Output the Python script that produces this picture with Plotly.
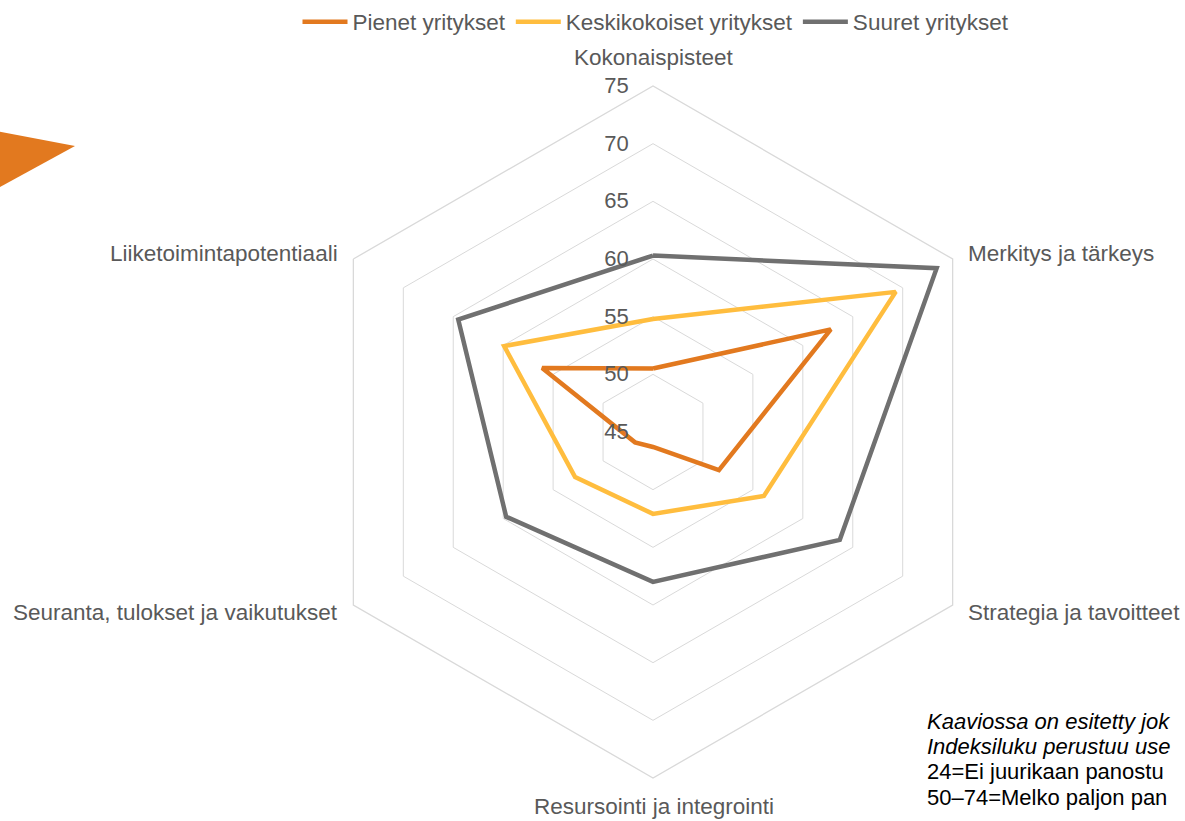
import plotly.graph_objects as go

categories = ["Kokonaispisteet", "Merkitys ja tärkeys", "Strategia ja tavoitteet",
              "Resursointi ja integrointi", "Seuranta, tulokset ja vaikutukset",
              "Liiketoimintapotentiaali"]
pienet = [50.5, 62.8, 51.6, 46.3, 46.8, 56.1]
keski = [54.8, 69.3, 56.1, 52.1, 52.8, 59.9]
suuret = [60.3, 73.4, 63.7, 58.0, 59.7, 64.5]
series_names = ["Pienet yritykset", "Keskikokoiset yritykset", "Suuret yritykset"]
radial_ticks = [45, 50, 55, 60, 65, 70, 75]
note_lines = ["<i>Kaaviossa on esitetty jok</i>", "<i>Indeksiluku perustuu use</i>",
              "24=Ei juurikaan panostu", "50–74=Melko paljon pan"]

W, H = 1185, 821
colors = ["#E2791F", "#FFBD3E", "#707070"]
FONT = "Liberation Sans, Arial, sans-serif"
GREY_TXT = "#595959"


def px(x):
    return x / W


def py(y):
    return 1 - y / H


fig = go.Figure()
for name, vals, col in zip(series_names, [pienet, keski, suuret], colors):
    fig.add_trace(go.Scatterpolar(
        r=vals + vals[:1], theta=categories + categories[:1], name=name,
        mode="lines", line=dict(color=col, width=4.5), hoverinfo="skip"))

cx, cy, R = 653, 432, 346
fig.update_layout(
    width=W, height=H, margin=dict(l=0, r=0, t=0, b=0, autoexpand=False),
    paper_bgcolor="white", plot_bgcolor="white",
    font=dict(family=FONT, color=GREY_TXT, size=21),
    showlegend=True,
    legend=dict(orientation="h", x=px(656), xanchor="center", y=py(22), yanchor="middle",
                font=dict(size=22.5, color=GREY_TXT), itemwidth=45, tracegroupgap=0),
    polar=dict(
        domain=dict(x=[px(cx - R), px(cx + R)], y=[py(cy + R), py(cy - R)]),
        gridshape="linear", bgcolor="white",
        angularaxis=dict(direction="clockwise", rotation=90, showgrid=False,
                         showline=True, linecolor="#D9D9D9", linewidth=1.3, ticks="",
                         showticklabels=False),
        radialaxis=dict(range=[45, 75], tickvals=radial_ticks, showline=False,
                        ticks="outside", ticklen=16, tickcolor="rgba(0,0,0,0)",
                        angle=90, side="counterclockwise", tickangle=90,
                        gridcolor="#D9D9D9", gridwidth=1.3,
                        tickfont=dict(size=22, color=GREY_TXT)),
    ),
    shapes=[dict(type="path", xref="paper", yref="paper",
                 path=f"M {px(-20)} {py(128)} L {px(75)} {py(146)} L {px(-20)} {py(198)} Z",
                 fillcolor="#E2791F", line=dict(width=0), layer="above")],
)

# category labels placed like the reference (outside each hexagon vertex)
label_pos = [(654, 58, "center"), (966, 253, "left"), (966, 612, "left"),
             (654, 806, "center"), (340, 612, "right"), (340, 253, "right")]
for cat, (lx, ly, anc) in zip(categories, label_pos):
    fig.add_annotation(x=px(lx), y=py(ly), xref="paper", yref="paper", text=cat,
                       showarrow=False, xanchor=anc, yanchor="middle",
                       font=dict(size=22.5, color=GREY_TXT, family=FONT))

for i, txt in enumerate(note_lines):
    fig.add_annotation(x=px(925), y=py(721 + i * 25.4), xref="paper", yref="paper",
                       text=txt, showarrow=False, xanchor="left", yanchor="middle",
                       font=dict(size=22, color="#000000", family=FONT))

fig.write_html("out.html", config={"displayModeBar": False},
               post_script="document.body.style.margin='0';document.body.style.overflow='hidden';")
